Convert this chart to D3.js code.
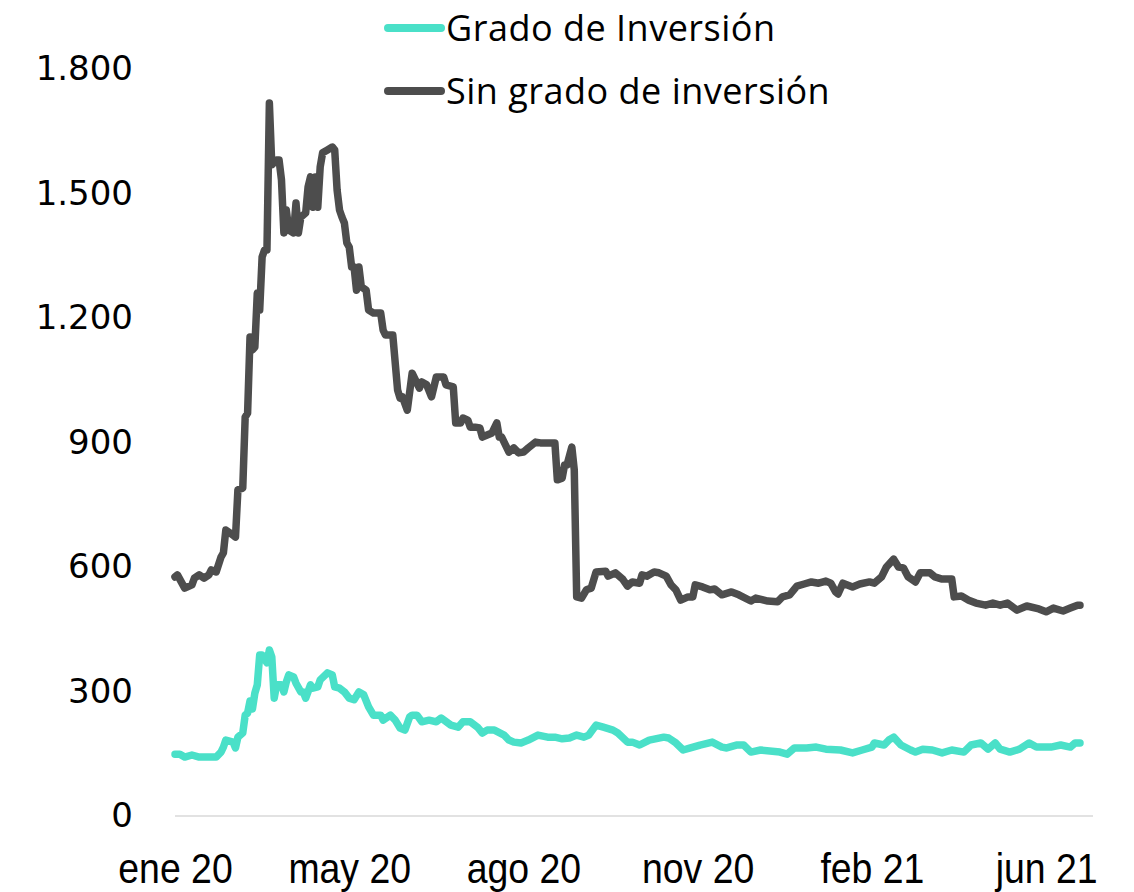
<!DOCTYPE html>
<html>
<head>
<meta charset="utf-8">
<script src="https://cdn.jsdelivr.net/npm/d3@7"></script>
<style>
  body { margin: 0; background: #ffffff; }
  svg { display: block; }
</style>
</head>
<body>
<div id="chart"></div>
<script>
// Dias habiles desde ene 2020 (indice) y spread en pb
var diasSinGrado = [0, 1, 4, 7, 8, 10, 12, 14, 15, 17, 19, 20, 21, 24, 25, 26, 28, 29, 30, 31,
  32, 33, 34, 35, 36, 37, 38, 39, 40, 42, 43, 44, 45, 46, 47, 49, 50, 51, 52, 54,
  55, 56, 57, 58, 59, 60, 61, 63, 65, 66, 67, 68, 69, 70, 71, 72, 73, 74, 75, 76,
  77, 79, 80, 82, 85, 86, 87, 90, 92, 93, 94, 96, 98, 100, 101, 102, 104, 106, 108, 111,
  112, 115, 116, 118, 119, 121, 122, 124, 126, 127, 129, 131, 133, 134, 135, 138, 140, 142, 144, 146,
  149, 151, 154, 157, 158, 160, 161, 162, 164, 165, 166, 168, 170, 172, 174, 178, 179, 182, 185, 187,
  189, 192, 193, 195, 198, 200, 203, 205, 207, 209, 212, 214, 215, 218, 221, 223, 226, 230, 233, 238,
  240, 245, 249, 251, 254, 257, 260, 263, 266, 269, 271, 273, 274, 276, 280, 283, 287, 289, 292, 294,
  297, 299, 301, 303, 306, 308, 312, 314, 317, 321, 322, 325, 328, 331, 335, 338, 341, 344, 348, 352,
  357, 360, 363, 367, 370, 373, 374];
var sinGrado = [576, 581, 549, 557, 573, 581, 573, 581, 593, 588, 624, 634, 689, 677, 672, 786, 790, 961, 971, 1154,
  1123, 1130, 1260, 1219, 1347, 1364, 1364, 1718, 1569, 1581, 1581, 1533, 1405, 1460, 1412, 1405, 1477, 1405, 1443, 1453,
  1516, 1540, 1467, 1540, 1467, 1564, 1598, 1605, 1612, 1605, 1508, 1460, 1443, 1429, 1381, 1371, 1323, 1323, 1267, 1323,
  1275, 1267, 1219, 1212, 1212, 1171, 1159, 1159, 1026, 1007, 1010, 978, 1067, 1043, 1031, 1046, 1039, 1010, 1058, 1058,
  1039, 1034, 947, 947, 959, 954, 937, 937, 935, 913, 918, 923, 947, 913, 913, 877, 887, 875, 877, 887,
  901, 899, 899, 899, 810, 814, 846, 846, 889, 834, 528, 525, 545, 549, 588, 590, 578, 586, 571, 554,
  564, 561, 581, 578, 588, 586, 578, 557, 545, 520, 528, 528, 557, 552, 545, 547, 533, 540, 533, 518,
  525, 518, 516, 528, 533, 554, 559, 564, 561, 566, 561, 540, 535, 561, 552, 559, 564, 561, 576, 600,
  619, 600, 598, 576, 564, 586, 586, 576, 571, 571, 528, 530, 520, 513, 508, 513, 508, 513, 496, 506,
  499, 492, 501, 494, 501, 508, 508];

var diasGrado = [0, 2, 4, 7, 10, 13, 17, 19, 20, 21, 24, 25, 26, 28, 29, 30, 31, 32, 33, 34,
  35, 36, 38, 39, 40, 41, 42, 44, 45, 46, 47, 49, 50, 52, 53, 54, 56, 57, 59, 60,
  63, 65, 66, 68, 70, 72, 74, 76, 78, 80, 82, 85, 86, 89, 91, 93, 95, 97, 98, 100,
  102, 105, 108, 110, 114, 117, 119, 122, 125, 127, 129, 132, 136, 138, 140, 143, 146, 150, 154, 157,
  160, 163, 166, 169, 171, 174, 177, 181, 183, 187, 189, 192, 196, 202, 204, 207, 210, 213, 217, 222,
  226, 228, 232, 235, 238, 242, 250, 253, 256, 261, 265, 269, 275, 280, 284, 288, 289, 293, 295, 297,
  300, 304, 306, 309, 313, 317, 321, 326, 329, 333, 336, 339, 341, 345, 349, 353, 356, 362, 366, 370,
  372, 374];
var grado = [149, 149, 142, 147, 142, 142, 142, 154, 166, 183, 178, 164, 190, 200, 243, 248, 277, 258, 296, 316,
  388, 388, 369, 400, 383, 284, 316, 316, 299, 323, 340, 335, 320, 299, 299, 284, 316, 308, 311, 328,
  345, 340, 311, 308, 299, 284, 280, 299, 292, 263, 243, 243, 231, 243, 231, 212, 207, 239, 243, 243,
  227, 231, 227, 236, 219, 214, 227, 227, 214, 200, 207, 207, 195, 183, 178, 176, 183, 195, 190, 190,
  186, 188, 195, 190, 195, 219, 214, 207, 200, 178, 178, 171, 183, 190, 188, 176, 159, 164, 171, 178,
  166, 164, 171, 171, 154, 159, 154, 149, 164, 164, 166, 161, 159, 152, 159, 166, 176, 171, 183, 190,
  171, 159, 154, 161, 159, 152, 159, 154, 171, 176, 161, 176, 161, 154, 161, 176, 166, 166, 171, 166,
  176, 176];

var yTicks = [0, 300, 600, 900, 1200, 1500, 1800];
var xTickDias = [0, 72, 144, 216, 288, 360];
var xTickLabels = ["ene 20", "may 20", "ago 20", "nov 20", "feb 21", "jun 21"];

var seriesNames = ["Grado de Inversión", "Sin grado de inversión"];
var seriesColors = ["#4ae0c8", "#4d4d4d"];

// Define SVG area dimensions
var svgWidth = 1134;
var svgHeight = 892;

var chartMargin = {
  top: 69,
  right: 54,
  bottom: 76,
  left: 175
};

var chartWidth = 1080 - chartMargin.left;
var chartHeight = svgHeight - chartMargin.top - chartMargin.bottom;

var svg = d3
  .select("#chart")
  .append("svg")
  .attr("width", svgWidth)
  .attr("height", svgHeight);

var chartGroup = svg.append("g")
  .attr("transform", `translate(${chartMargin.left}, ${chartMargin.top})`);

// scales
var xLinearScale = d3.scaleLinear()
  .domain([0, 374])
  .range([0, chartWidth]);

var yLinearScale = d3.scaleLinear()
  .domain([0, 1800])
  .range([chartHeight, 0]);

// numbers with "." as thousands separator
var esFormat = d3.formatLocale({ decimal: ",", thousands: ".", grouping: [3], currency: ["", ""] }).format(",.0f");

// y axis, labels only
var leftAxis = d3.axisLeft(yLinearScale)
  .tickValues(yTicks)
  .tickSize(0)
  .tickPadding(42)
  .tickFormat(esFormat);

var yAxis = chartGroup.append("g")
  .call(leftAxis);
yAxis.select(".domain").remove();
yAxis.selectAll("text")
  .attr("font-family", "DejaVu Sans")
  .attr("font-size", 34)
  .attr("fill", "#000000");

// x axis: light grey base line + labels
var bottomAxis = d3.axisBottom(xLinearScale)
  .tickValues(xTickDias)
  .tickSize(0)
  .tickPadding(36)
  .tickFormat((d, i) => xTickLabels[i]);

var xAxis = chartGroup.append("g")
  .attr("transform", `translate(0, ${chartHeight})`)
  .call(bottomAxis);
xAxis.select(".domain").remove();
// narrow look: squeeze the labels horizontally
xAxis.selectAll("text")
  .attr("font-family", "Liberation Sans")
  .attr("font-size", 43)
  .attr("fill", "#000000")
  .attr("transform", "scale(0.87, 1)");

chartGroup.append("line")
  .attr("x1", 0)
  .attr("x2", 918)
  .attr("y1", yLinearScale(0))
  .attr("y2", yLinearScale(0))
  .attr("stroke", "#d9d9d9")
  .attr("stroke-width", 1.5);

// lines
var lineGen = d3.line()
  .x(d => xLinearScale(d[0]))
  .y(d => yLinearScale(d[1]));

var gradoData = d3.zip(diasGrado, grado);
var sinGradoData = d3.zip(diasSinGrado, sinGrado);

chartGroup.append("path")
  .datum(gradoData)
  .attr("d", lineGen)
  .attr("fill", "none")
  .attr("stroke", seriesColors[0])
  .attr("stroke-width", 7.5)
  .attr("stroke-linejoin", "round")
  .attr("stroke-linecap", "round");

chartGroup.append("path")
  .datum(sinGradoData)
  .attr("d", lineGen)
  .attr("fill", "none")
  .attr("stroke", seriesColors[1])
  .attr("stroke-width", 7.5)
  .attr("stroke-linejoin", "round")
  .attr("stroke-linecap", "round");

// legend
var legend = svg.append("g")
  .attr("transform", "translate(385, 28)");

seriesNames.forEach(function(name, i) {
  var row = legend.append("g")
    .attr("transform", `translate(0, ${i * 63})`);
  row.append("line")
    .attr("x1", 3)
    .attr("x2", 56)
    .attr("y1", 0)
    .attr("y2", 0)
    .attr("stroke", seriesColors[i])
    .attr("stroke-width", 8)
    .attr("stroke-linecap", "round");
  row.append("text")
    .attr("x", 61)
    .attr("y", 0)
    .attr("dy", "0.35em")
    .attr("font-family", "Open Sans")
    .attr("font-size", 36)
    .attr("letter-spacing", 0.5)
    .attr("fill", "#000000")
    .text(name);
});
</script>
</body>
</html>
